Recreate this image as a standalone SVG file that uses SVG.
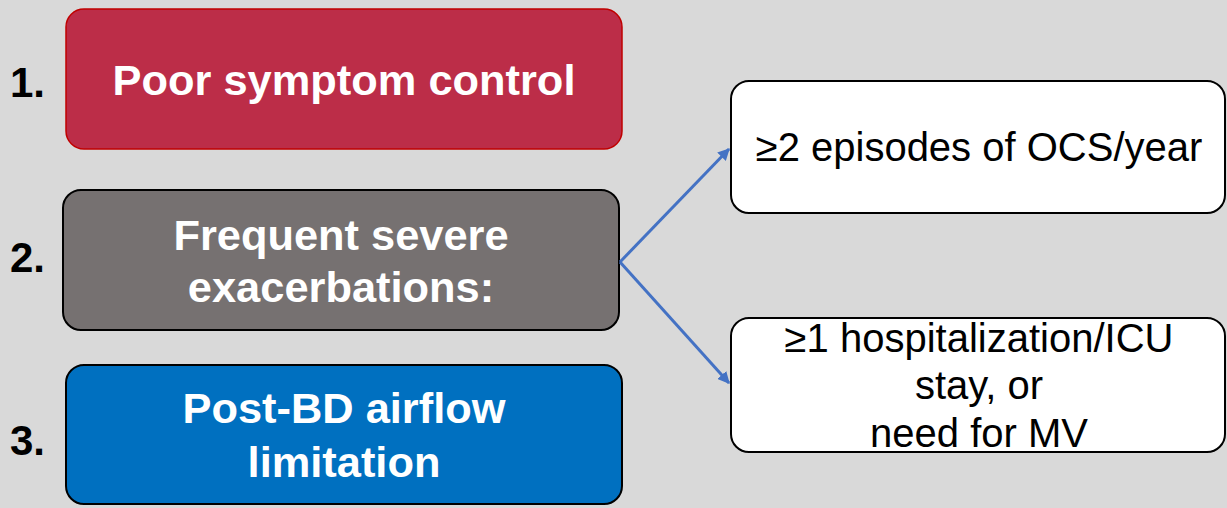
<svg xmlns="http://www.w3.org/2000/svg" width="1227" height="508" viewBox="0 0 1227 508">
<defs>
<style>
.num{font-family:"Liberation Sans",Arial,sans-serif;font-weight:bold;font-size:42px;fill:#000}
.bt{font-family:"Liberation Sans",Arial,sans-serif;font-weight:bold;font-size:43.4px;fill:#fff;text-anchor:middle}
.rt{font-family:"Liberation Sans",Arial,sans-serif;font-size:40px;fill:#000;text-anchor:middle}
.conn{stroke:#4472c4;stroke-width:3;fill:none;marker-end:url(#ah)}
</style>
<marker id="ah" viewBox="0 0 10 10" refX="9" refY="5" markerWidth="4" markerHeight="4" orient="auto" markerUnits="strokeWidth">
<path d="M0,0 L10,5 L0,10 z" fill="#4472c4"/>
</marker>
</defs>
<rect x="0" y="0" width="1227" height="508" fill="#d9d9d9"/>
<g id="n1">
<text class="num" x="10" y="97">1.</text>
<rect x="66" y="9" width="556" height="140" rx="18" fill="#bc2d48" stroke="#c00000" stroke-width="1.5"/>
<text class="bt" x="344" y="95">Poor symptom control</text>
</g>
<g id="n2">
<text class="num" x="10" y="272">2.</text>
<rect x="63" y="190" width="556" height="140" rx="18" fill="#767171" stroke="#000" stroke-width="2"/>
<text class="bt" x="341" y="250">Frequent severe</text>
<text class="bt" x="341" y="302">exacerbations:</text>
</g>
<g id="n3">
<text class="num" x="10" y="455">3.</text>
<rect x="66" y="365" width="556" height="139" rx="18" fill="#0070c0" stroke="#000" stroke-width="2"/>
<text class="bt" x="344" y="423">Post-BD airflow</text>
<text class="bt" x="344" y="477">limitation</text>
</g>
<g id="n4">
<rect x="731" y="81" width="494" height="132" rx="18" fill="#fff" stroke="#000" stroke-width="2"/>
<text class="rt" x="979" y="161">≥2 episodes of OCS/year</text>
</g>
<g id="n5">
<rect x="731" y="318" width="494" height="134" rx="18" fill="#fff" stroke="#000" stroke-width="2"/>
<text class="rt" x="979" y="352">≥1 hospitalization/ICU</text>
<text class="rt" x="979" y="399">stay, or</text>
<text class="rt" x="979" y="447">need for MV</text>
</g>
<g id="connectors">
<path class="conn" d="M620,262 L729,149"/>
<path class="conn" d="M620,262 L729,383"/>
</g>
</svg>
